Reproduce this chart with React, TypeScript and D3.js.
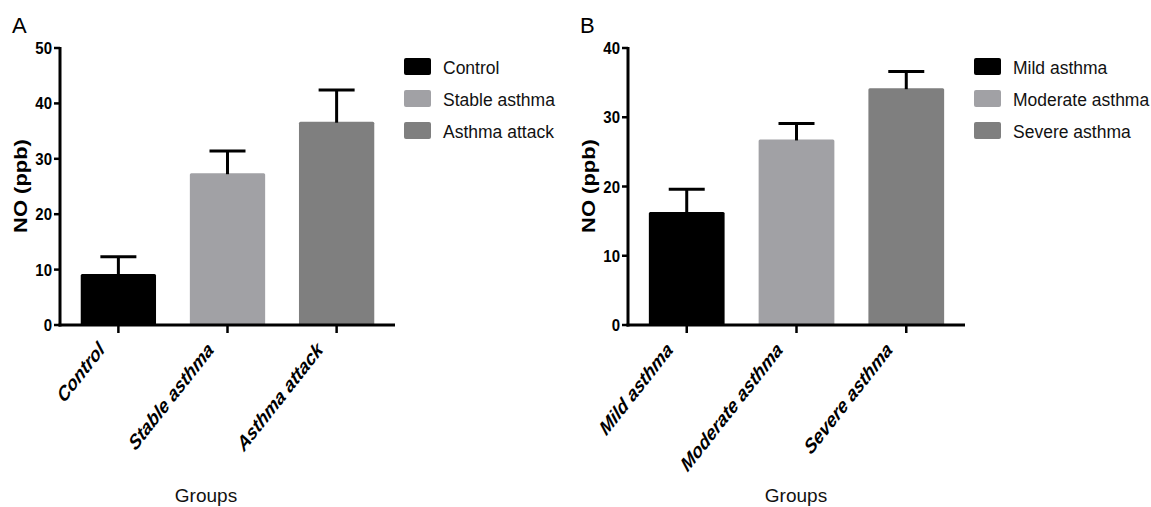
import React from "react";
import * as d3 from "d3";

// panel A
const groupsA = ["Control", "Stable asthma", "Asthma attack"];
const meansA = [9.2, 27.4, 36.7];
const errA = [3.1, 4.0, 5.7];
const ticksA = [0, 10, 20, 30, 40, 50];

// panel B
const groupsB = ["Mild asthma", "Moderate asthma", "Severe asthma"];
const meansB = [16.3, 26.8, 34.2];
const errB = [3.3, 2.3, 2.4];
const ticksB = [0, 10, 20, 30, 40];

const barColors = ["#000000", "#a1a1a5", "#7f7f7f"];

const FONT = "'Liberation Sans', Arial, Helvetica, sans-serif";

type PanelProps = {
  label: string;
  groups: string[];
  means: number[];
  errs: number[];
  ticks: number[];
  left: number;
  right: number;
  legendX: number;
  groupsX: number;
};

const TOP = 48;
const BOTTOM = 325;

const Panel = ({ label, groups, means, errs, ticks, left, right, legendX, groupsX }: PanelProps) => {
  const yMax = ticks[ticks.length - 1];
  const y = d3.scaleLinear().domain([0, yMax]).range([BOTTOM, TOP]);
  const x = d3
    .scaleBand<string>()
    .domain(groups)
    .range([left, right])
    .paddingInner(0.31)
    .paddingOuter(0.19);
  const capW = 36;

  return (
    <g fontFamily={FONT}>
      {/* panel letter */}
      <text x={left - 48} y={33} fontSize={22} fill="#000">
        {label}
      </text>

      {/* bars */}
      {groups.map((g, i) => (
        <rect
          key={g}
          x={x(g)}
          y={y(means[i])}
          width={x.bandwidth()}
          height={y(0) - y(means[i])}
          fill={barColors[i]}
          rx={1.5}
        />
      ))}

      {/* error bars */}
      {groups.map((g, i) => {
        const cx = (x(g) as number) + x.bandwidth() / 2;
        return (
          <g key={g} stroke="#000" strokeWidth={3}>
            <line x1={cx} x2={cx} y1={y(means[i]) + 1} y2={y(means[i] + errs[i])} />
            <line x1={cx - capW / 2} x2={cx + capW / 2} y1={y(means[i] + errs[i])} y2={y(means[i] + errs[i])} />
          </g>
        );
      })}

      {/* y axis */}
      <line x1={left} x2={left} y1={TOP - 1} y2={BOTTOM + 1.5} stroke="#000" strokeWidth={3} />
      {ticks.map((t) => (
        <g key={t}>
          <line x1={left - 6} x2={left} y1={y(t)} y2={y(t)} stroke="#000" strokeWidth={2.5} />
          <text
            transform={`translate(${left - 8},${y(t)}) scale(1,1.12)`}
            dy="0.36em"
            textAnchor="end"
            fontSize={15}
            fontWeight="bold"
            fill="#000"
          >
            {t}
          </text>
        </g>
      ))}
      <text
        transform={`translate(${left - 33},186) scale(1,1.22) rotate(-90)`}
        textAnchor="middle"
        fontSize={18}
        fontWeight="bold"
        fill="#000"
      >
        NO (ppb)
      </text>

      {/* x axis */}
      <line x1={left - 1.5} x2={right} y1={BOTTOM} y2={BOTTOM} stroke="#000" strokeWidth={3} />
      {groups.map((g) => {
        const cx = (x(g) as number) + x.bandwidth() / 2;
        return (
          <g key={g}>
            <line x1={cx} x2={cx} y1={BOTTOM} y2={BOTTOM + 8} stroke="#000" strokeWidth={2.5} />
            <text
              transform={`translate(${cx - 13},${BOTTOM + 26}) scale(1,1.27) rotate(-45)`}
              textAnchor="end"
              fontSize={16.5}
              fontWeight="bold"
              fontStyle="italic"
              fill="#000"
            >
              {g}
            </text>
          </g>
        );
      })}
      <text x={groupsX} y={502} textAnchor="middle" fontSize={19} fill="#111">
        Groups
      </text>

      {/* legend */}
      {groups.map((g, i) => (
        <g key={g} transform={`translate(${legendX},${58 + i * 32})`}>
          <rect width={27} height={17} rx={2} fill={barColors[i]} />
          <text x={39} y={16} fontSize={17.5} fill="#111">
            {g}
          </text>
        </g>
      ))}
    </g>
  );
};

export default function App() {
  return (
    <svg
      width={1151}
      height={507}
      style={{ position: "absolute", left: 0, top: 0, background: "#fff" }}
    >
      <Panel
        label="A"
        groups={groupsA}
        means={meansA}
        errs={errA}
        ticks={ticksA}
        left={60}
        right={395}
        legendX={404}
        groupsX={206}
      />
      <Panel
        label="B"
        groups={groupsB}
        means={meansB}
        errs={errB}
        ticks={ticksB}
        left={628}
        right={965}
        legendX={974}
        groupsX={796}
      />
    </svg>
  );
}
